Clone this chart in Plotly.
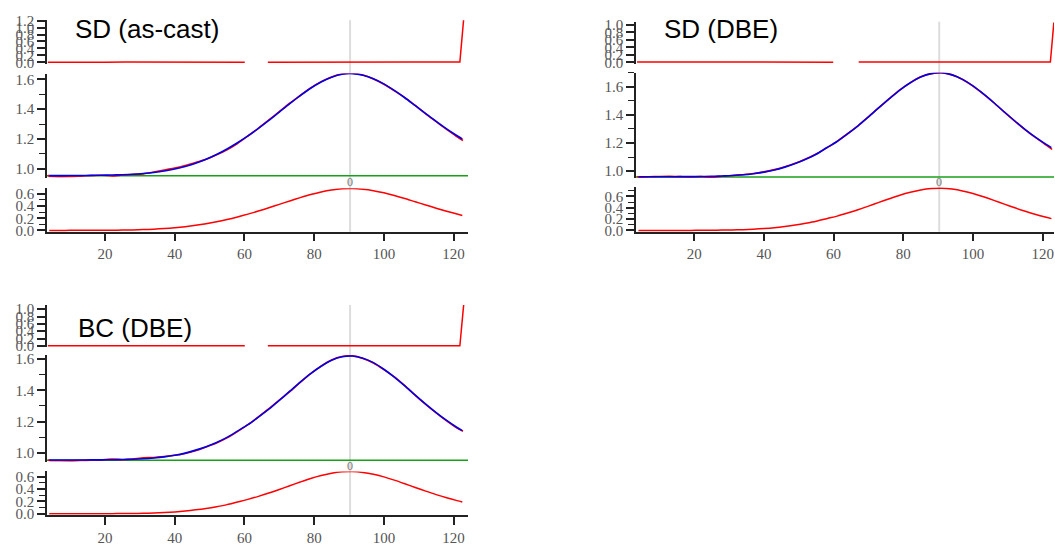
import plotly.graph_objects as go

W, H = 1055, 553

# ---------------- data ----------------
titles = ["SD (as-cast)", "SD (DBE)", "BC (DBE)"]
peak_center = [90.3, 90.3, 90.3]
baseline = [0.953, 0.958, 0.955]
baseline_x = [3.0, 125.0]

x_grid = [4, 7, 10, 13, 16, 19, 22, 25, 28, 31, 34, 37, 40, 43, 46, 49, 52, 55, 58, 61,
          64, 67, 70, 73, 76, 79, 82, 85, 88, 91, 94, 97, 100, 103, 106, 109, 112, 115, 118, 121, 122.5]
x_data = [3.6, 4, 7, 10, 13, 16, 19, 22, 25, 28, 31, 34, 37, 40, 43, 46, 49, 52, 55, 58, 61,
          64, 67, 70, 73, 76, 79, 82, 85, 88, 91, 94, 97, 100, 103, 106, 109, 112, 115, 118, 121, 122.7]

# peak component (bottom rows)
peak1 = [0.001, 0.001, 0.002, 0.002, 0.003, 0.004, 0.005, 0.007, 0.010, 0.015,
         0.022, 0.032, 0.045, 0.062, 0.084, 0.111, 0.143, 0.180, 0.222, 0.268,
         0.318, 0.372, 0.428, 0.484, 0.538, 0.588, 0.630, 0.662, 0.682, 0.686,
         0.675, 0.652, 0.617, 0.573, 0.524, 0.471, 0.418, 0.365, 0.315, 0.269, 0.247]
peak2 = [0.001, 0.001, 0.001, 0.001, 0.002, 0.002, 0.003, 0.004, 0.007, 0.010,
         0.015, 0.023, 0.034, 0.049, 0.070, 0.095, 0.126, 0.162, 0.208, 0.253,
         0.307, 0.365, 0.428, 0.494, 0.558, 0.620, 0.672, 0.713, 0.737, 0.743,
         0.728, 0.696, 0.649, 0.592, 0.529, 0.463, 0.399, 0.338, 0.282, 0.232, 0.209]
peak3 = [0.001, 0.001, 0.001, 0.001, 0.002, 0.002, 0.003, 0.004, 0.006, 0.009,
         0.014, 0.021, 0.031, 0.045, 0.064, 0.087, 0.115, 0.148, 0.190, 0.232,
         0.281, 0.334, 0.392, 0.452, 0.511, 0.567, 0.615, 0.653, 0.675, 0.680,
         0.666, 0.637, 0.594, 0.542, 0.484, 0.424, 0.365, 0.309, 0.258, 0.212, 0.191]

# fitted curve (blue, middle rows)
fit1 = [0.954, 0.954, 0.955, 0.955, 0.956, 0.957, 0.958, 0.960, 0.963, 0.968,
        0.975, 0.985, 0.998, 1.015, 1.037, 1.064, 1.096, 1.133, 1.175, 1.221,
        1.271, 1.325, 1.381, 1.437, 1.491, 1.541, 1.583, 1.615, 1.635, 1.639,
        1.628, 1.605, 1.570, 1.526, 1.477, 1.424, 1.371, 1.318, 1.268, 1.222, 1.200]
fit2 = [0.959, 0.959, 0.959, 0.959, 0.960, 0.960, 0.961, 0.962, 0.965, 0.968,
        0.973, 0.981, 0.992, 1.007, 1.028, 1.053, 1.084, 1.120, 1.166, 1.211,
        1.265, 1.323, 1.386, 1.452, 1.516, 1.578, 1.630, 1.671, 1.695, 1.701,
        1.686, 1.654, 1.607, 1.550, 1.487, 1.421, 1.357, 1.296, 1.240, 1.190, 1.167]
fit3 = [0.956, 0.956, 0.956, 0.956, 0.957, 0.957, 0.958, 0.959, 0.961, 0.964,
        0.969, 0.976, 0.986, 1.000, 1.019, 1.041, 1.068, 1.100, 1.140, 1.181,
        1.229, 1.280, 1.336, 1.394, 1.452, 1.506, 1.553, 1.591, 1.613, 1.618,
        1.604, 1.576, 1.534, 1.484, 1.428, 1.369, 1.312, 1.258, 1.208, 1.163, 1.143]

# measured data (red, middle rows)
data1 = [0.958, 0.949, 0.946, 0.947, 0.951, 0.955, 0.957, 0.952, 0.958, 0.962, 0.966,
         0.978, 0.992, 1.005, 1.022, 1.042, 1.064, 1.094, 1.128, 1.170, 1.220,
         1.272, 1.328, 1.384, 1.440, 1.492, 1.543, 1.585, 1.617, 1.637, 1.641,
         1.629, 1.603, 1.568, 1.524, 1.478, 1.425, 1.369, 1.316, 1.265, 1.215, 1.190]
data2 = [0.962, 0.957, 0.959, 0.961, 0.962, 0.960, 0.958, 0.960, 0.955, 0.963, 0.968,
         0.974, 0.982, 0.994, 1.010, 1.030, 1.055, 1.086, 1.122, 1.165, 1.212,
         1.266, 1.322, 1.387, 1.452, 1.517, 1.579, 1.629, 1.672, 1.695, 1.702,
         1.686, 1.653, 1.606, 1.549, 1.487, 1.420, 1.356, 1.294, 1.238, 1.185, 1.155]
data3 = [0.957, 0.953, 0.951, 0.950, 0.953, 0.955, 0.957, 0.962, 0.958, 0.963, 0.970,
         0.972, 0.978, 0.986, 0.998, 1.015, 1.039, 1.064, 1.097, 1.137, 1.181,
         1.231, 1.283, 1.338, 1.391, 1.450, 1.506, 1.554, 1.593, 1.615, 1.619,
         1.603, 1.574, 1.532, 1.485, 1.429, 1.368, 1.310, 1.256, 1.205, 1.159, 1.139]

# residuals (red, top rows)
res_x1 = [3.6, 8, 14, 20, 26, 32, 38, 44, 50, 56, 60.1, None, 66.7, 72, 78, 84, 90, 96,
          102, 108, 114, 120, 121.8, 122.9]
res_y1 = [0.004, 0.0, 0.008, 0.004, 0.010, 0.006, 0.0, 0.008, 0.005, 0.003, 0.002, None,
          0.004, 0.007, 0.010, 0.008, 0.004, 0.008, 0.012, 0.007, 0.009, 0.010, 0.008, 1.26]
res_x2 = [3.6, 8, 14, 20, 26, 32, 38, 44, 50, 56, 59.9, None, 67.2, 72, 78, 84, 90, 96,
          102, 108, 114, 120, 122.2, 123.2]
res_y2 = [0.004, 0.008, 0.003, 0.006, 0.010, 0.004, 0.002, 0.007, 0.009, 0.004, 0.003, None,
          0.005, 0.006, 0.004, 0.008, 0.006, 0.004, 0.007, 0.009, 0.005, 0.004, 0.005, 1.06]
res_x3 = [3.6, 8, 14, 20, 26, 32, 38, 44, 50, 56, 60.1, None, 66.7, 72, 78, 84, 90, 96,
          102, 108, 114, 120, 121.8, 122.9]
res_y3 = [0.004, 0.006, 0.003, 0.002, 0.006, 0.008, 0.004, 0.003, 0.002, 0.0, 0.002, None,
          0.004, 0.006, 0.008, 0.006, 0.004, 0.006, 0.005, 0.003, 0.004, 0.006, 0.004, 1.13]

x_ticks = [20, 40, 60, 80, 100, 120]
top_ticks = [[0.0, 0.2, 0.4, 0.6, 0.8, 1.0, 1.2], [0.0, 0.2, 0.4, 0.6, 0.8, 1.0],
             [0.0, 0.2, 0.4, 0.6, 0.8, 1.0]]
mid_ticks = [1.0, 1.2, 1.4, 1.6]
bot_ticks = [0.0, 0.2, 0.4, 0.6]

peaks = [peak1, peak2, peak3]
fits = [fit1, fit2, fit3]
datas = [data1, data2, data3]
res_xs = [res_x1, res_x2, res_x3]
res_ys = [res_y1, res_y2, res_y3]

# ---------------- layout geometry (pixels) ----------------
xgeo = [(47, 468, 105.0, 20, 453.6, 120),
        (636, 1054, 694.2, 20, 1042.7, 120),
        (47, 468, 105.0, 20, 453.6, 120)]
ygeo = [
    [(13.5, 58, 14.0, 1.2, 56.7, 0.0), (68.3, 175, 74.3, 1.6, 166.0, 1.0), (186, 230.5, 191.7, 0.6, 229.3, 0.0)],
    [(15.0, 58, 18.3, 1.0, 56.7, 0.0), (67.5, 175.5, 82.0, 1.6, 168.3, 1.0), (185, 230.5, 194.3, 0.6, 229.3, 0.0)],
    [(305.7, 349, 310.0, 1.0, 347.7, 0.0), (357.0, 466.5, 361.0, 1.6, 457.7, 1.0), (476.5, 521, 481.7, 0.6, 520.0, 0.0)],
]
title_pos = [(73, 23), (662, 23), (76, 329)]
zero_lbl_y = [179.5, 179.5, 470.5]


def lin_range(p0, p1, pa, a, pb, b):
    s = (b - a) / (pb - pa)
    return [a + (p0 - pa) * s, a + (p1 - pa) * s]


RED = "#ff0000"
BLUE = "#0000e6"
GREEN = "#18a018"
AXC = "#222222"
TFONT = dict(family="Liberation Serif, DejaVu Serif, serif", size=15, color="#555555")

fig = go.Figure()
layout = dict(width=W, height=H, margin=dict(l=0, r=0, t=0, b=0),
              paper_bgcolor="white", plot_bgcolor="white", showlegend=False,
              shapes=[], annotations=[])

for i in range(3):
    xl, xr, pa, a, pb, b = xgeo[i]
    xname = "x" if i == 0 else f"x{i+1}"
    xkey = "xaxis" if i == 0 else f"xaxis{i+1}"
    yb_id = 3 * i + 3
    layout[xkey] = dict(domain=[xl / W, xr / W], range=lin_range(xl, xr, pa, a, pb, b),
                        anchor=f"y{yb_id}", showline=True, linecolor=AXC, linewidth=1.5,
                        ticks="outside", ticklen=8, tickwidth=1.5, tickcolor=AXC,
                        tickvals=x_ticks, tickfont=TFONT, showgrid=False, zeroline=False)
    tick_sets = [top_ticks[i], mid_ticks, bot_ticks]
    for r in range(3):
        yid = 3 * i + r + 1
        ykey = "yaxis" if yid == 1 else f"yaxis{yid}"
        pt, pbm, p1, v1, p2, v2 = ygeo[i][r]
        rng = lin_range(pbm, pt, p1, v1, p2, v2)
        ax = dict(domain=[1 - pbm / H, 1 - pt / H], range=rng, anchor=xname,
                  showline=True, linecolor=AXC, linewidth=1.5, ticks="outside",
                  ticklen=8, tickwidth=1.5, tickcolor=AXC, tickvals=tick_sets[r],
                  tickformat=".1f", tickfont=TFONT, showgrid=False, zeroline=False)
        if r > 0:
            ax["minor"] = dict(ticks="outside", dtick=0.1, ticklen=6, tickwidth=1.2,
                               tickcolor=AXC, showgrid=False)
        layout[ykey] = ax

    yt, ym, ybt = [("y" if 3 * i + r + 1 == 1 else f"y{3*i+r+1}") for r in range(3)]

    fig.add_trace(go.Scatter(x=res_xs[i], y=res_ys[i], mode="lines", xaxis=xname, yaxis=yt,
                             line=dict(color=RED, width=1.5), connectgaps=False))
    fig.add_trace(go.Scatter(x=baseline_x, y=[baseline[i], baseline[i]], mode="lines",
                             xaxis=xname, yaxis=ym, line=dict(color=GREEN, width=1.5)))
    fig.add_trace(go.Scatter(x=x_data, y=datas[i], mode="lines", xaxis=xname, yaxis=ym,
                             line=dict(color=RED, width=1.6, shape="spline", smoothing=0.6)))
    fig.add_trace(go.Scatter(x=x_grid, y=fits[i], mode="lines", xaxis=xname, yaxis=ym,
                             line=dict(color=BLUE, width=1.6, shape="spline", smoothing=0.8)))
    fig.add_trace(go.Scatter(x=x_grid, y=peaks[i], mode="lines", xaxis=xname, yaxis=ybt,
                             line=dict(color=RED, width=1.5, shape="spline", smoothing=0.8)))

    top_px = ygeo[i][0][0]
    bot_px = ygeo[i][2][1]
    layout["shapes"].append(dict(type="line", xref=xname, yref="paper",
                                 x0=peak_center[i], x1=peak_center[i],
                                 y0=1 - bot_px / H, y1=1 - top_px / H,
                                 line=dict(color="#dddddd", width=2), layer="below"))
    layout["annotations"].append(dict(text="0", xref=xname, yref="paper", x=peak_center[i],
                                      y=1 - zero_lbl_y[i] / H, showarrow=False,
                                      xanchor="center", yanchor="middle",
                                      font=dict(family="Liberation Serif, serif", size=12,
                                                color="#777777")))
    tx, ty = title_pos[i]
    layout["annotations"].append(dict(text=titles[i], xref="paper", yref="paper",
                                      x=tx / W, y=1 - ty / H, showarrow=False,
                                      xanchor="left", yanchor="middle",
                                      font=dict(family="Liberation Sans, Arial, sans-serif",
                                                size=26, color="black")))

fig.update_layout(**layout)
fig.write_html("out.html")
